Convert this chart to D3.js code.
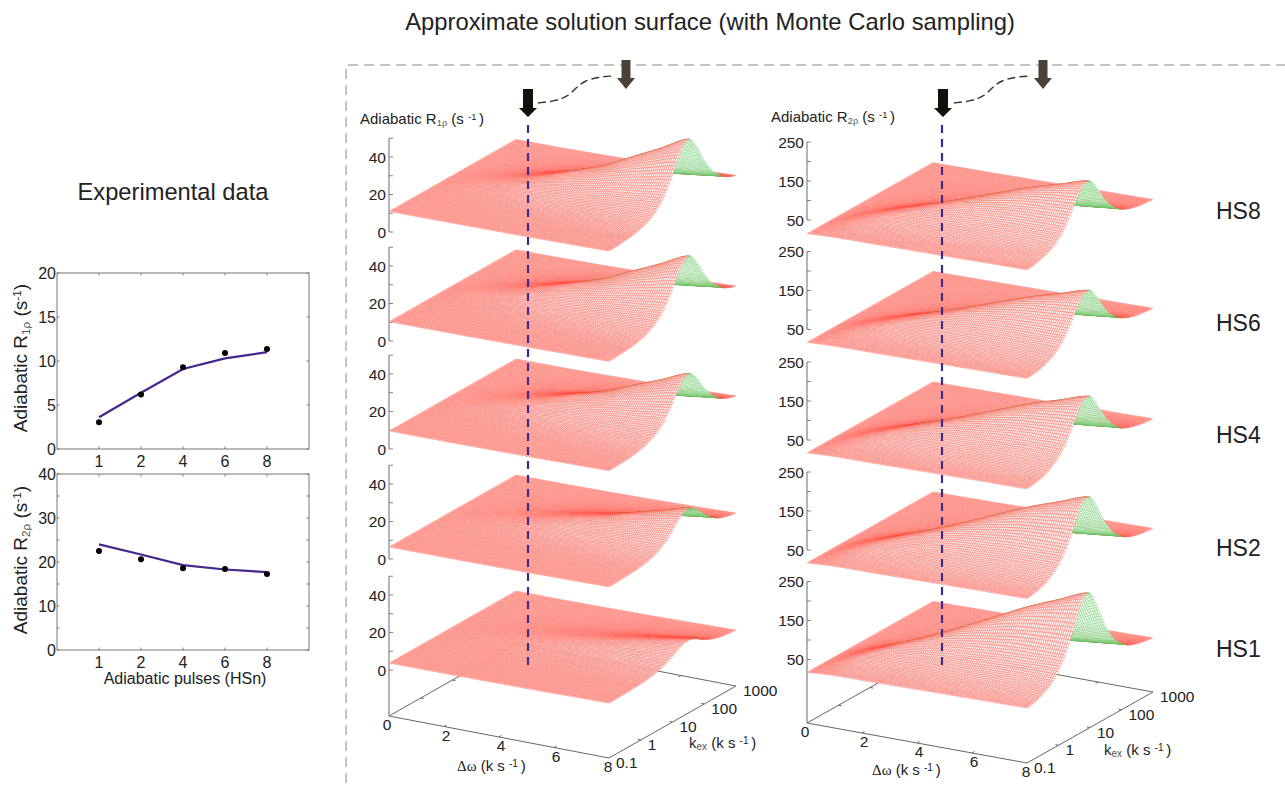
<!DOCTYPE html>
<html>
<head>
<meta charset="utf-8">
<script src="https://cdn.jsdelivr.net/npm/d3@7"></script>
<style>
  html, body { margin: 0; padding: 0; background: #fff; }
  text { font-family: "Liberation Sans", Arial, sans-serif; fill: #222; }
</style>
</head>
<body>
<svg id="chart" width="1285" height="791">
  <defs><filter id="soft" x="-5%" y="-5%" width="110%" height="110%"><feGaussianBlur stdDeviation="0.4"/></filter></defs>
</svg>
<script>
/////////////////////////////////// DATA ///////////////////////////////////
// experimental panels
const pulses = ["1", "2", "4", "6", "8"];
const r1Measured = [3.05, 6.2, 9.3, 10.9, 11.35];
const r1Fit = [3.6, 6.4, 9.1, 10.3, 11];
const r2Measured = [22.5, 20.6, 18.6, 18.4, 17.3];
const r2Fit = [24, 21.7, 19.3, 18.3, 17.7];

const hsNames = ["HS8", "HS6", "HS4", "HS2", "HS1"];

// surface level at the dw = 0 edge, read on the z axis of each panel
const r1Level = [11, 10.3, 9.6, 6.4, 3.7];
const r2Level = [15, 17, 17, 17, 17];

// height above the level along the dw = 8 edge, quarter decades of kex from 0.1 to 1000
const r1EdgeHs8 = [1.2, 1.4, 1.8, 2.3, 3.4, 5.2, 8.5, 13.9, 22.5, 32.5, 37, 31, 20.9, 12.9, 7.8, 4.9, 3.2];
const r1EdgeHs6 = [1.2, 1.4, 1.7, 2.2, 3.1, 4.8, 7.7, 12.6, 20.4, 29.5, 33.5, 28.2, 19, 11.8, 7.2, 4.5, 3];
const r1EdgeHs4 = [1.2, 1.3, 1.6, 2, 2.8, 4.3, 6.8, 11, 17.7, 25.5, 29, 24.5, 16.5, 10.3, 6.3, 4, 2.7];
const r1EdgeHs2 = [1.1, 1.2, 1.4, 1.7, 2.2, 3.1, 4.7, 7.4, 11.7, 16.8, 19, 16.1, 11, 7, 4.4, 2.9, 2.1];
const r1EdgeHs1 = [1, 1.1, 1.2, 1.4, 1.6, 2.1, 3, 4.4, 6.7, 9.3, 10.5, 9, 6.3, 4.1, 2.8, 2, 1.6];

const r2EdgeHs8 = [10, 12, 18, 26, 42, 68, 106, 143, 147, 114, 74, 46, 29, 19, 13, 10, 8];
const r2EdgeHs6 = [10, 12, 17, 26, 41, 67, 104, 141, 145, 113, 73, 45, 29, 19, 13, 10, 8];
const r2EdgeHs4 = [10, 13, 18, 28, 45, 72, 113, 152, 157, 121, 79, 49, 30, 20, 14, 10, 8];
const r2EdgeHs2 = [11, 14, 20, 31, 51, 82, 130, 176, 181, 140, 91, 55, 34, 22, 15, 11, 9];
const r2EdgeHs1 = [11, 15, 23, 36, 60, 97, 153, 209, 215, 166, 107, 65, 40, 25, 17, 12, 9];

// along the crest, dw = 0 to 8: share of the edge height, and the kex where the ridge sits
const r1Crest = [0, 0.03, 0.08, 0.17, 0.29, 0.42, 0.61, 0.8, 1];
const r2Crest = [0, 0.09, 0.19, 0.31, 0.45, 0.6, 0.75, 0.875, 1];
const r1RidgeKex = [6, 8, 12, 15, 18, 21, 24, 27, 30];
const r2RidgeKex = [0.5, 0.95, 1.9, 2.9, 3.8, 4.8, 5.7, 6.6, 7.6];

// tick labels of the 3D box
const dwTicks = [0, 2, 4, 6, 8];
const kexTicks = [0.1, 1, 10, 100, 1000];

/////////////////////////////////// LAYOUT ///////////////////////////////////
const svg = d3.select("#chart");
const meshSize = 105;

const r1Col = {
  ox: 389, dwVec: [220, 42], kexVec: [127, -72], zScale: 1.875,
  zeros: [232, 341, 449, 559, 670], floor: 716,
  zDomain: [0, 50], zStep: 10, zLabels: [0, 20, 40],
  level: r1Level, crest: r1Crest, ridge: r1RidgeKex,
  edges: [r1EdgeHs8, r1EdgeHs6, r1EdgeHs4, r1EdgeHs2, r1EdgeHs1]
};
const r2Col = {
  ox: 807, dwVec: [220, 40], kexVec: [126, -71], zScale: 0.39,
  zeros: [239.5, 349, 459.5, 569.5, 679], floor: 723,
  zDomain: [50, 250], zStep: 50, zLabels: [50, 150, 250],
  level: r2Level, crest: r2Crest, ridge: r2RidgeKex,
  edges: [r2EdgeHs8, r2EdgeHs6, r2EdgeHs4, r2EdgeHs2, r2EdgeHs1]
};

const dwFrac = d3.scaleLinear().domain([0, 8]).range([0, 1]);
const kexFrac = d3.scaleLog().domain([0.1, 1000]).range([0, 1]);

// smooth read-out between the knots of a list (Catmull-Rom, passes through them)
function spline(values, u) {
  const n = values.length - 1;
  const p = Math.min(Math.max(u, 0), 1) * n;
  const i = Math.min(Math.floor(p), n - 1);
  const t = p - i;
  const a = values[Math.max(i - 1, 0)], b = values[i], c = values[i + 1], d = values[Math.min(i + 2, n)];
  return b + 0.5 * t * (c - a + t * (2 * a - 5 * b + 4 * c - d + t * (3 * (b - c) + d - a)));
}

function project(col, zeroY, t, f, z) {
  return [
    col.ox + col.dwVec[0] * t + col.kexVec[0] * f,
    zeroY + col.dwVec[1] * t + col.kexVec[1] * f - col.zScale * z
  ];
}

function quadPath(q) {
  return "M" + q.map(p => p[0].toFixed(2) + "," + p[1].toFixed(2)).join("L") + "Z";
}

// the surface, far strips first so that the nearer ones hide them
function drawSurface(col, row) {
  const g = svg.append("g").attr("class", "surface " + hsNames[row]).attr("filter", "url(#soft)");
  const zeroY = col.zeros[row];
  const edge = col.edges[row];
  const level = col.level[row];
  const ridgeFrac = col.ridge.map(k => kexFrac(k));
  const ridgeEnd = ridgeFrac[ridgeFrac.length - 1];
  const pts = d3.range(meshSize + 1).map(i => d3.range(meshSize + 1).map(j => {
    const t = i / meshSize, f = j / meshSize;
    const shift = ridgeEnd - spline(ridgeFrac, t);
    const z = level + spline(col.crest, t) * spline(edge, f + shift);
    return project(col, zeroY, t, f, z);
  }));

  for (let j = meshSize - 1; j >= 0; j--) {
    let run = "", runGreen = null;
    for (let i = 0; i < meshSize; i++) {
      const q = [pts[i][j], pts[i + 1][j], pts[i + 1][j + 1], pts[i][j + 1]];
      const area = (q[1][0] - q[0][0]) * (q[3][1] - q[0][1]) - (q[1][1] - q[0][1]) * (q[3][0] - q[0][0]);
      const green = area > 0; // underside of the sheet
      if (runGreen !== null && green !== runGreen) {
        addRun(g, run, runGreen);
        run = "";
      }
      run += quadPath(q);
      runGreen = green;
    }
    addRun(g, run, runGreen);
  }
}

function addRun(g, d, green) {
  g.append("path")
    .attr("d", d)
    .attr("fill", "#fff")
    .attr("stroke", green ? "#4cc04c" : "#ff4636")
    .attr("stroke-width", 0.28);
}

function drawZAxis(col, row) {
  const zeroY = col.zeros[row];
  const g = svg.append("g");
  const yOf = v => zeroY - col.zScale * v;
  const top = yOf(col.zDomain[1]);
  const bottom = row === 4 ? col.floor : yOf(col.zDomain[0]);
  g.append("line").attr("x1", col.ox).attr("x2", col.ox)
    .attr("y1", top).attr("y2", bottom)
    .attr("stroke", "#777").attr("stroke-width", 1.1);
  d3.range(col.zDomain[0], col.zDomain[1] + 1, col.zStep).forEach(v => {
    g.append("line").attr("x1", col.ox).attr("x2", col.ox + 4)
      .attr("y1", yOf(v)).attr("y2", yOf(v))
      .attr("stroke", "#777").attr("stroke-width", 0.9);
  });
  col.zLabels.forEach(v => {
    g.append("text").attr("x", col.ox - 3).attr("y", yOf(v) + 5.5)
      .attr("text-anchor", "end").attr("font-size", 15.5).text(v);
  });
}

function drawFloor(col) {
  const g = svg.append("g");
  const y0 = col.floor;
  const pt = (t, f) => [col.ox + col.dwVec[0] * t + col.kexVec[0] * f, y0 + col.dwVec[1] * t + col.kexVec[1] * f];
  [[[0, 0], [1, 0]], [[1, 0], [1, 1]], [[0, 0], [0, 1]], [[0, 1], [1, 1]]].forEach(e => {
    const a = pt(e[0][0], e[0][1]), b = pt(e[1][0], e[1][1]);
    g.append("line").attr("x1", a[0]).attr("y1", a[1]).attr("x2", b[0]).attr("y2", b[1])
      .attr("stroke", "#666").attr("stroke-width", 1);
  });
  dwTicks.forEach(v => {
    const t = dwFrac(v);
    const a = pt(t, 0), c = pt(t, 1);
    if (v > 0 && v < 8) {
      g.append("line").attr("x1", a[0]).attr("y1", a[1]).attr("x2", a[0] + 2.5).attr("y2", a[1] - 1.5).attr("stroke", "#666");
      g.append("line").attr("x1", c[0]).attr("y1", c[1]).attr("x2", c[0] - 2.5).attr("y2", c[1] + 1.5).attr("stroke", "#666");
    }
    g.append("text").attr("x", a[0] + (v === 8 ? -1 : v === 0 ? -2 : 2)).attr("y", a[1] + 14)
      .attr("text-anchor", "middle").attr("font-size", 15.5).text(v);
  });
  kexTicks.forEach(v => {
    const f = kexFrac(v);
    const a = pt(1, f), c = pt(0, f);
    if (v > 0.1 && v < 1000) {
      g.append("line").attr("x1", a[0]).attr("y1", a[1]).attr("x2", a[0] - 3).attr("y2", a[1] - 0.6).attr("stroke", "#666");
      g.append("line").attr("x1", c[0]).attr("y1", c[1]).attr("x2", c[0] + 3).attr("y2", c[1] + 0.6).attr("stroke", "#666");
    }
    g.append("text").attr("x", a[0] + 7).attr("y", a[1] + 10)
      .attr("text-anchor", "start").attr("font-size", 15.5).text(v);
  });
}

// "Adiabatic R1rho (s-1)" style label with small grey subscript
function rateLabel(sel, digit, size, spaced) {
  sel.append("tspan").text("Adiabatic R");
  sel.append("tspan").attr("font-size", size * 0.62).attr("dy", size * 0.14).style("fill", "#555").text(digit + "ρ");
  sel.append("tspan").attr("dy", -size * 0.14).text(spaced ? " (s " : " (s");
  sel.append("tspan").attr("font-size", size * 0.62).attr("dy", -size * 0.3).text(spaced ? "-1 " : "-1");
  sel.append("tspan").attr("dy", size * 0.3).text(")");
}

function unitLabel(x, y, first, sub, firstFont) {
  const t = svg.append("text").attr("x", x).attr("y", y).attr("font-size", 15);
  const head = t.append("tspan").text(first);
  if (firstFont) head.style("font-family", firstFont);
  if (sub) t.append("tspan").attr("font-size", 10).attr("dy", 2).style("fill", "#555").text(sub);
  t.append("tspan").attr("dy", sub ? -2 : 0).text(" (k s ");
  t.append("tspan").attr("font-size", 10).attr("dy", -4).text("-1 ");
  t.append("tspan").attr("dy", 4).text(")");
}

function drawArrows(blackX, greyX, curve) {
  const arrow = (x, top, shaftBottom, tip, colour, half, headHalf) => {
    const p = d3.path();
    p.moveTo(x - half, top); p.lineTo(x + half, top); p.lineTo(x + half, shaftBottom);
    p.lineTo(x + headHalf, shaftBottom); p.lineTo(x, tip); p.lineTo(x - headHalf, shaftBottom);
    p.lineTo(x - half, shaftBottom); p.closePath();
    svg.append("path").attr("d", p.toString()).attr("fill", colour);
  };
  arrow(blackX, 89, 108, 117, "#11110d", 5, 9);
  arrow(greyX, 60, 78, 89, "#4a4038", 4.5, 9);
  const line = d3.line().curve(d3.curveBasis);
  svg.append("path").attr("d", line(curve)).attr("fill", "none")
    .attr("stroke", "#333").attr("stroke-width", 1.4).attr("stroke-dasharray", "8 4");
}

function drawPanel(top, bottom, fit, measured, yMax, yStep, yLabelStep, digit, labelY) {
  const left = 57, right = 309;
  const x = d3.scaleLinear().domain([0, 6]).range([left, right]);
  const y = d3.scaleLinear().domain([0, yMax]).range([bottom, top]);
  const g = svg.append("g");
  g.append("rect").attr("x", left).attr("y", top).attr("width", right - left).attr("height", bottom - top)
    .attr("fill", "none").attr("stroke", "#777").attr("stroke-width", 1);
  pulses.forEach((p, i) => {
    const px = x(i + 1);
    g.append("line").attr("x1", px).attr("x2", px).attr("y1", bottom).attr("y2", bottom - 2.5).attr("stroke", "#777");
    g.append("line").attr("x1", px).attr("x2", px).attr("y1", top).attr("y2", top + 2.5).attr("stroke", "#777");
    g.append("text").attr("x", px).attr("y", bottom + 18).attr("text-anchor", "middle").attr("font-size", 16).text(p);
  });
  d3.range(0, yMax + 1, yStep).forEach(v => {
    g.append("line").attr("x1", left).attr("x2", left + 2.5).attr("y1", y(v)).attr("y2", y(v)).attr("stroke", "#777");
    g.append("line").attr("x1", right).attr("x2", right - 2.5).attr("y1", y(v)).attr("y2", y(v)).attr("stroke", "#777");
    if (v % yLabelStep === 0) {
      g.append("text").attr("x", left - 1).attr("y", y(v) + 5.5).attr("text-anchor", "end").attr("font-size", 16).text(v);
    }
  });
  const line = d3.line().x((d, i) => x(i + 1)).y(d => y(d));
  g.append("path").attr("d", line(fit)).attr("fill", "none").attr("stroke", "#46278c").attr("stroke-width", 2.2);
  g.selectAll("circle").data(measured).enter().append("circle")
    .attr("cx", (d, i) => x(i + 1)).attr("cy", d => y(d)).attr("r", 3).attr("fill", "#000");
  const label = svg.append("text")
    .attr("transform", "translate(27," + labelY + ") rotate(-90)")
    .attr("text-anchor", "middle").attr("font-size", 19);
  rateLabel(label, digit, 19, false);
}

/////////////////////////////////// DRAW ///////////////////////////////////
// frame
svg.append("path").attr("d", "M346,783V65H1285").attr("fill", "none")
  .attr("stroke", "#8a8a8a").attr("stroke-width", 1).attr("stroke-dasharray", "10 6");

svg.append("text").attr("x", 710).attr("y", 30).attr("text-anchor", "middle").attr("font-size", 23.8)
  .text("Approximate solution surface (with Monte Carlo sampling)");
svg.append("text").attr("x", 173).attr("y", 200).attr("text-anchor", "middle").attr("font-size", 23.7)
  .text("Experimental data");

drawPanel(273, 449, r1Fit, r1Measured, 20, 5, 5, "1", 358);
drawPanel(474, 650, r2Fit, r2Measured, 40, 5, 10, "2", 560);
svg.append("text").attr("x", 185).attr("y", 684).attr("text-anchor", "middle").attr("font-size", 16)
  .text("Adiabatic pulses (HSn)");

[r1Col, r2Col].forEach(col => {
  drawFloor(col);
  hsNames.forEach((name, row) => {
    drawZAxis(col, row);
    drawSurface(col, row);
  });
});

// guide lines and arrows
[[528, 125, 667], [942, 125, 669]].forEach(d => {
  svg.append("line").attr("x1", d[0]).attr("x2", d[0]).attr("y1", d[1]).attr("y2", d[2])
    .attr("stroke", "#3d2a8a").attr("stroke-width", 2.2).attr("stroke-dasharray", "8 6");
});
drawArrows(528, 626, [[538, 103], [555, 101], [567, 97], [576, 88], [584, 81], [598, 77], [613, 76]]);
drawArrows(943, 1043, [[954, 103], [971, 101], [983, 97], [992, 88], [1000, 81], [1015, 77], [1031, 76]]);

// panel labels
const lab1 = svg.append("text").attr("x", 360).attr("y", 124).attr("font-size", 15);
rateLabel(lab1, "1", 15, true);
const lab2 = svg.append("text").attr("x", 771).attr("y", 122).attr("font-size", 15);
rateLabel(lab2, "2", 15, true);

const hsY = [219, 331, 443, 556, 657];
hsNames.forEach((name, i) => {
  svg.append("text").attr("x", 1216).attr("y", hsY[i]).attr("font-size", 23).text(name);
});

unitLabel(457, 771, "Δω", null, "'Liberation Serif', serif");
unitLabel(689, 748, "k", "ex");
unitLabel(872, 775, "Δω", null, "'Liberation Serif', serif");
unitLabel(1104, 755, "k", "ex");
</script>
</body>
</html>
